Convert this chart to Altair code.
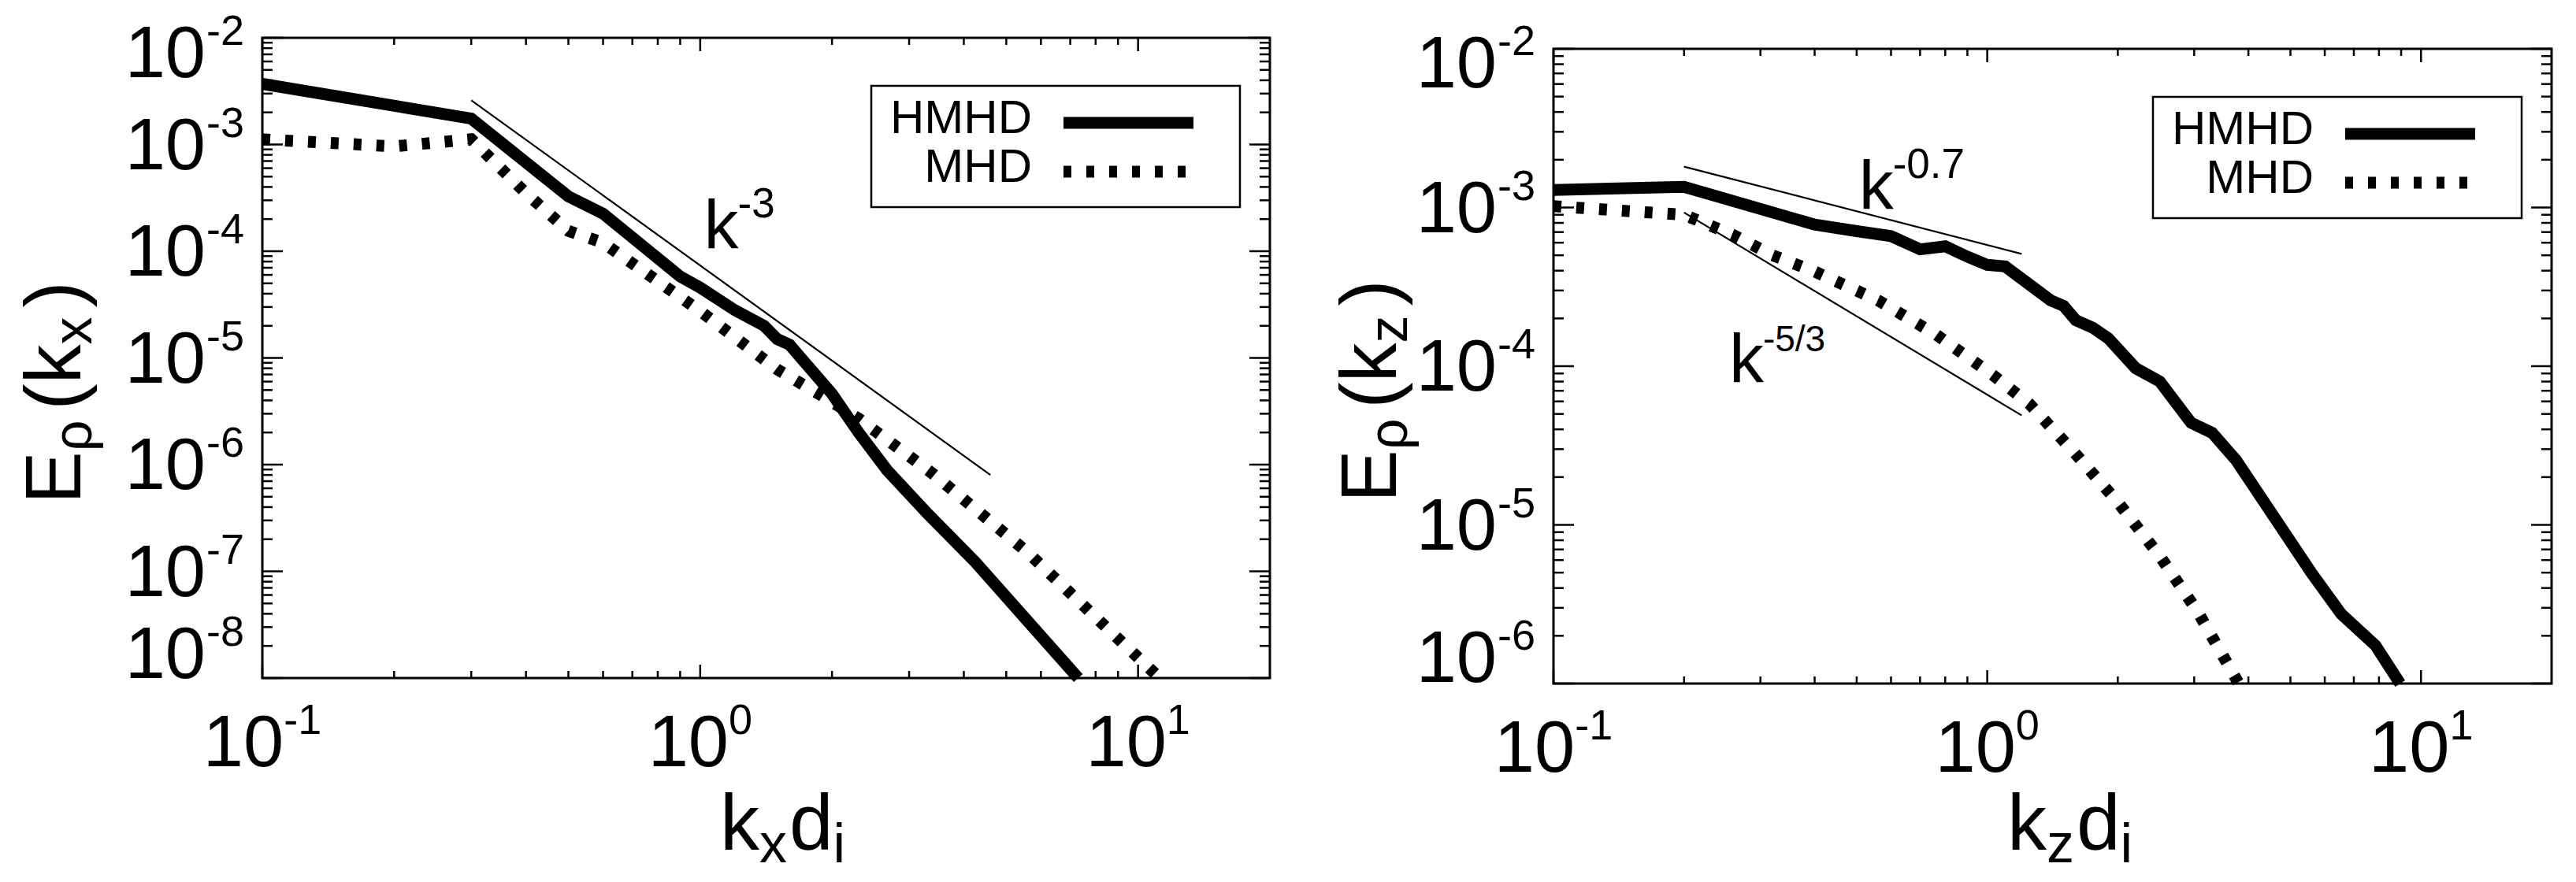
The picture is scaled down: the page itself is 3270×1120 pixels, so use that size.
import altair as alt
import pandas as pd

FONT = "Liberation Sans"
W, H = 3254, 1104

# ---------------- data ----------------
# Left panel: E_rho(k_x)
kx_hmhd = [0.1, 0.3, 0.5, 0.6, 0.9, 1.0, 1.2, 1.4, 1.5, 1.6, 2.0, 2.3, 2.67, 3.3, 4.25, 5.5, 7.3]
ex_hmhd = [3.7e-3, 1.75e-3, 3.26e-4, 2.25e-4, 5.8e-5, 4.56e-5, 2.8e-5, 2.0e-5, 1.5e-5, 1.33e-5,
           4.6e-6, 2.0e-6, 8.9e-7, 3.5e-7, 1.22e-7, 3.7e-8, 1.0e-8]
kx_mhd = [0.1, 0.2, 0.3, 0.4, 0.5, 0.6, 1.0, 1.5, 1.9, 2.3, 3.4, 5.6, 8.6, 11.2]
ex_mhd = [1.12e-3, 9.6e-4, 1.12e-3, 3.5e-4, 1.55e-4, 1.2e-4, 2.75e-5, 7.8e-6, 4.4e-6, 2.7e-6,
          8.2e-7, 1.5e-7, 2.8e-8, 1.0e-8]
kx_guide = [0.3, 4.6]
ex_guide = [2.6e-3, 8.0e-7]

# Right panel: E_rho(k_z)
kz_hmhd = [0.1, 0.2, 0.4, 0.5, 0.6, 0.7, 0.8, 0.9, 1.0, 1.1, 1.4, 1.5, 1.6, 1.75, 1.9, 2.2, 2.5,
           2.95, 3.3, 3.75, 4.85, 5.57, 6.55, 7.85, 8.95]
ez_hmhd = [1.29e-3, 1.35e-3, 7.8e-4, 7.1e-4, 6.6e-4, 5.45e-4, 5.7e-4, 4.9e-4, 4.35e-4, 4.25e-4,
           2.6e-4, 2.4e-4, 1.95e-4, 1.75e-4, 1.5e-4, 9.7e-5, 8.0e-5, 4.4e-5, 3.8e-5, 2.55e-5,
           8.9e-6, 5.05e-6, 2.74e-6, 1.74e-6, 1.0e-6]
kz_mhd = [0.1, 0.2, 0.26, 0.32, 0.4, 0.56, 0.76, 1.03, 1.25, 1.58, 2.0, 2.5, 3.06, 3.8]
ez_mhd = [1.02e-3, 9.0e-4, 6.7e-4, 5.0e-4, 3.95e-4, 2.6e-4, 1.59e-4, 8.8e-5, 5.8e-5, 2.9e-5,
          1.39e-5, 6.35e-6, 2.82e-6, 1.0e-6]
kz_guide07 = [0.2, 1.2]
ez_guide07 = [1.81e-3, 5.1e-4]
kz_guide53 = [0.2, 1.2]
ez_guide53 = [9.3e-4, 4.9e-5]

# annotations: (k, E) of the left end of the "k", and the exponent text
ann_left = [(1.02, 1.07e-4, "-3", 53)]
ann_right = [(0.506, 9.8e-4, "-0.7", 53), (0.254, 7.98e-5, "-5/3", 46)]

legend_labels = ["HMHD", "MHD"]

# axis ticks
x_major = [0.1, 1.0, 10.0]
x_major_exp = ["-1", "0", "1"]
x_minor = [m * 0.1 for m in range(2, 10)] + [float(m) for m in range(2, 10)]
yL_major = [1e-8, 1e-7, 1e-6, 1e-5, 1e-4, 1e-3, 1e-2]
yL_exp = ["-8", "-7", "-6", "-5", "-4", "-3", "-2"]
yR_major = [1e-6, 1e-5, 1e-4, 1e-3, 1e-2]
yR_exp = ["-6", "-5", "-4", "-3", "-2"]


def minors(lo_exp, hi_exp):
    return [m * 10.0 ** e for e in range(lo_exp, hi_exp) for m in range(2, 10)]


# ---------------- layout (plot frames, in chart pixels) ----------------
PL = dict(X0=325, X1=1604, Y0=40, Y1=853, ydom=[1e-8, 1e-2])
PR = dict(X0=1964, X1=3231, Y0=54, Y1=860, ydom=[1e-6, 1e-2])

ADV = {"k": 0.5, "x": 0.5, "z": 0.5, "d": 0.556, "i": 0.222, "E": 0.667, "ρ": 0.578,
       "(": 0.333, ")": 0.333, "-": 0.333, ".": 0.278, "/": 0.278}
for c in "0123456789":
    ADV[c] = 0.556


def adv(t):
    return sum(ADV.get(c, 0.556) for c in t)


def sx(p):
    return alt.Scale(type="log", domain=[0.1, 20], range=[p["X0"], p["X1"]], nice=False)


def sy(p):
    return alt.Scale(type="log", domain=p["ydom"], range=[p["Y1"], p["Y0"]], nice=False)


def X(p, f="k"):
    return alt.X(f"{f}:Q", scale=sx(p), axis=None)


def Y(p, f="E"):
    return alt.Y(f"{f}:Q", scale=sy(p), axis=None)


def vtext(t, size, x, y, align="left", angle=0):
    df = pd.DataFrame({"t": [t]})
    kw = dict(font=FONT, fontSize=size, align=align, baseline="alphabetic", color="black")
    if angle:
        kw["angle"] = angle
    return alt.Chart(df).mark_text(**kw).encode(text="t:N", x=alt.value(x), y=alt.value(y))


def panel(p, k1, e1, k2, e2, guides, anns, ymaj, yexp, ymin, shifts, ylabel_sub, xsub,
          xtitle_center, xtitle_base, ytitle_x, ytitle_y0):
    L = []
    # curves
    L.append(alt.Chart(pd.DataFrame({"k": k1, "E": e1})).mark_line(
        color="black", strokeWidth=15, strokeCap="butt").encode(x=X(p), y=Y(p)))
    L.append(alt.Chart(pd.DataFrame({"k": k2, "E": e2})).mark_line(
        color="black", strokeWidth=15, strokeCap="butt", strokeDash=[10, 19]).encode(x=X(p), y=Y(p)))
    for gk, ge in guides:
        L.append(alt.Chart(pd.DataFrame({"k": gk, "E": ge})).mark_line(
            color="black", strokeWidth=2.2).encode(x=X(p), y=Y(p)))
    # annotations
    for ak, ae, ex, es in anns:
        df = pd.DataFrame({"k": [ak], "E": [ae], "t": ["k"], "e": [ex]})
        L.append(alt.Chart(df).mark_text(font=FONT, fontSize=88, align="left", baseline="alphabetic",
                                         color="black").encode(x=X(p), y=Y(p), text="t:N"))
        L.append(alt.Chart(df).mark_text(font=FONT, fontSize=es, align="left", baseline="alphabetic",
                                         color="black", dx=43, dy=-39).encode(x=X(p), y=Y(p), text="e:N"))
    # ticks (mirrored, inward)
    for vals, ln in [(x_major, 17), (x_minor, 9)]:
        df = pd.DataFrame({"v": vals})
        base = alt.Chart(df).mark_rule(color="black", strokeWidth=2.5)
        L.append(base.encode(x=X(p, "v"), y=alt.value(p["Y1"]), y2=alt.value(p["Y1"] - ln)))
        L.append(base.encode(x=X(p, "v"), y=alt.value(p["Y0"]), y2=alt.value(p["Y0"] + ln)))
    for vals, ln in [(ymaj, 26), (ymin, 13)]:
        df = pd.DataFrame({"v": vals})
        base = alt.Chart(df).mark_rule(color="black", strokeWidth=2.5)
        L.append(base.encode(y=Y(p, "v"), x=alt.value(p["X0"]), x2=alt.value(p["X0"] + ln)))
        L.append(base.encode(y=Y(p, "v"), x=alt.value(p["X1"]), x2=alt.value(p["X1"] - ln)))
    # frame
    L.append(alt.Chart(pd.DataFrame({"a": [0]})).mark_rect(
        fillOpacity=0, stroke="black", strokeWidth=3).encode(
        x=alt.value(p["X0"]), x2=alt.value(p["X1"]), y=alt.value(p["Y0"]), y2=alt.value(p["Y1"])))
    # y tick labels
    top_sh, bot_sh = shifts
    groups = [(ymaj[1:-1], yexp[1:-1], 0), ([ymaj[0]], [yexp[0]], bot_sh), ([ymaj[-1]], [yexp[-1]], top_sh)]
    for vs, es, sh in groups:
        df = pd.DataFrame({"v": vs, "e": es, "t": ["10"] * len(vs)})
        L.append(alt.Chart(df).mark_text(font=FONT, fontSize=92, align="right", baseline="alphabetic",
                                         color="black", dy=31 + sh).encode(
            x=alt.value(p["X0"] - 72), y=Y(p, "v"), text="t:N"))
        L.append(alt.Chart(df).mark_text(font=FONT, fontSize=54, align="left", baseline="alphabetic",
                                         color="black", dy=-10 + sh).encode(
            x=alt.value(p["X0"] - 71), y=Y(p, "v"), text="e:N"))
    # x tick labels
    for v, e in zip(x_major, x_major_exp):
        w10 = adv("10") * 92
        we = adv(e) * 54
        start = -(w10 + we) / 2
        df = pd.DataFrame({"v": [v], "t": ["10"], "e": [e]})
        L.append(alt.Chart(df).mark_text(font=FONT, fontSize=92, align="left", baseline="alphabetic",
                                         color="black", dx=start).encode(
            x=X(p, "v"), y=alt.value(p["Y1"] + 112), text="t:N"))
        L.append(alt.Chart(df).mark_text(font=FONT, fontSize=54, align="left", baseline="alphabetic",
                                         color="black", dx=start + w10).encode(
            x=X(p, "v"), y=alt.value(p["Y1"] + 71), text="e:N"))
    # legend
    bx0, bx1 = p["X1"] - 506, p["X1"] - 38
    by0, by1 = p["Y0"] + 61, p["Y0"] + 215
    L.append(alt.Chart(pd.DataFrame({"a": [0]})).mark_rect(
        fillOpacity=0, stroke="black", strokeWidth=2.5).encode(
        x=alt.value(bx0), x2=alt.value(bx1), y=alt.value(by0), y2=alt.value(by1)))
    rows = [p["Y0"] + 108, p["Y0"] + 170]
    for lab, ry, dashed in zip(legend_labels, rows, [False, True]):
        L.append(vtext(lab, 60, p["X1"] - 302, ry + 13, align="right"))
        kw = dict(color="black", strokeWidth=15, strokeCap="butt")
        if dashed:
            kw["strokeDash"] = [10, 19]
        x_end = p["X1"] - (106 if dashed else 97)
        L.append(alt.Chart(pd.DataFrame({"a": [0]})).mark_rule(**kw).encode(
            x=alt.value(p["X1"] - 262), x2=alt.value(x_end), y=alt.value(ry)))
    # x title: k_? d_i
    pieces = [("k", 100, 0, 0), (xsub, 70, 16, 3), ("d", 100, 0, 0), ("i", 70, 16, 0)]
    total = sum(adv(t) * s + g for t, s, sh, g in pieces)
    x = xtitle_center - total / 2
    for t, s, sh, g in pieces:
        L.append(vtext(t, s, x, xtitle_base + sh))
        x += adv(t) * s + g
    # y title: E_rho(k_?)  (rotated, reading upward)
    pieces = [("E", 100, 0, 0), ("ρ", 70, 14, 12), ("(k", 100, 0, 0), (ylabel_sub, 70, 14, 12), (")", 100, 0, 0)]
    y = ytitle_y0
    for t, s, sh, g in pieces:
        L.append(vtext(t, s, ytitle_x + sh, y, angle=270))
        y -= adv(t) * s + g
    return L


layers = []
layers += panel(PL, kx_hmhd, ex_hmhd, kx_mhd, ex_mhd, [(kx_guide, ex_guide)], ann_left,
                yL_major, yL_exp, minors(-8, -2), (19, -31), "x", "x",
                (PL["X0"] + PL["X1"]) / 2 + 21, 1071, 94, 632)
layers += panel(PR, kz_hmhd, ez_hmhd, kz_mhd, ez_mhd,
                [(kz_guide07, ez_guide07), (kz_guide53, ez_guide53)], ann_right,
                yR_major, yR_exp, minors(-6, -2), (18, -33), "z", "z",
                (PR["X0"] + PR["X1"]) / 2 + 22, 1071, 1764, 630)

chart = alt.layer(*layers).resolve_scale(x="independent", y="independent").properties(
    width=W, height=H, padding=0, autosize=alt.AutoSizeParams(type="none")
).configure_view(strokeWidth=0)

chart.save("out.html", embed_options={"renderer": "svg", "actions": False})
